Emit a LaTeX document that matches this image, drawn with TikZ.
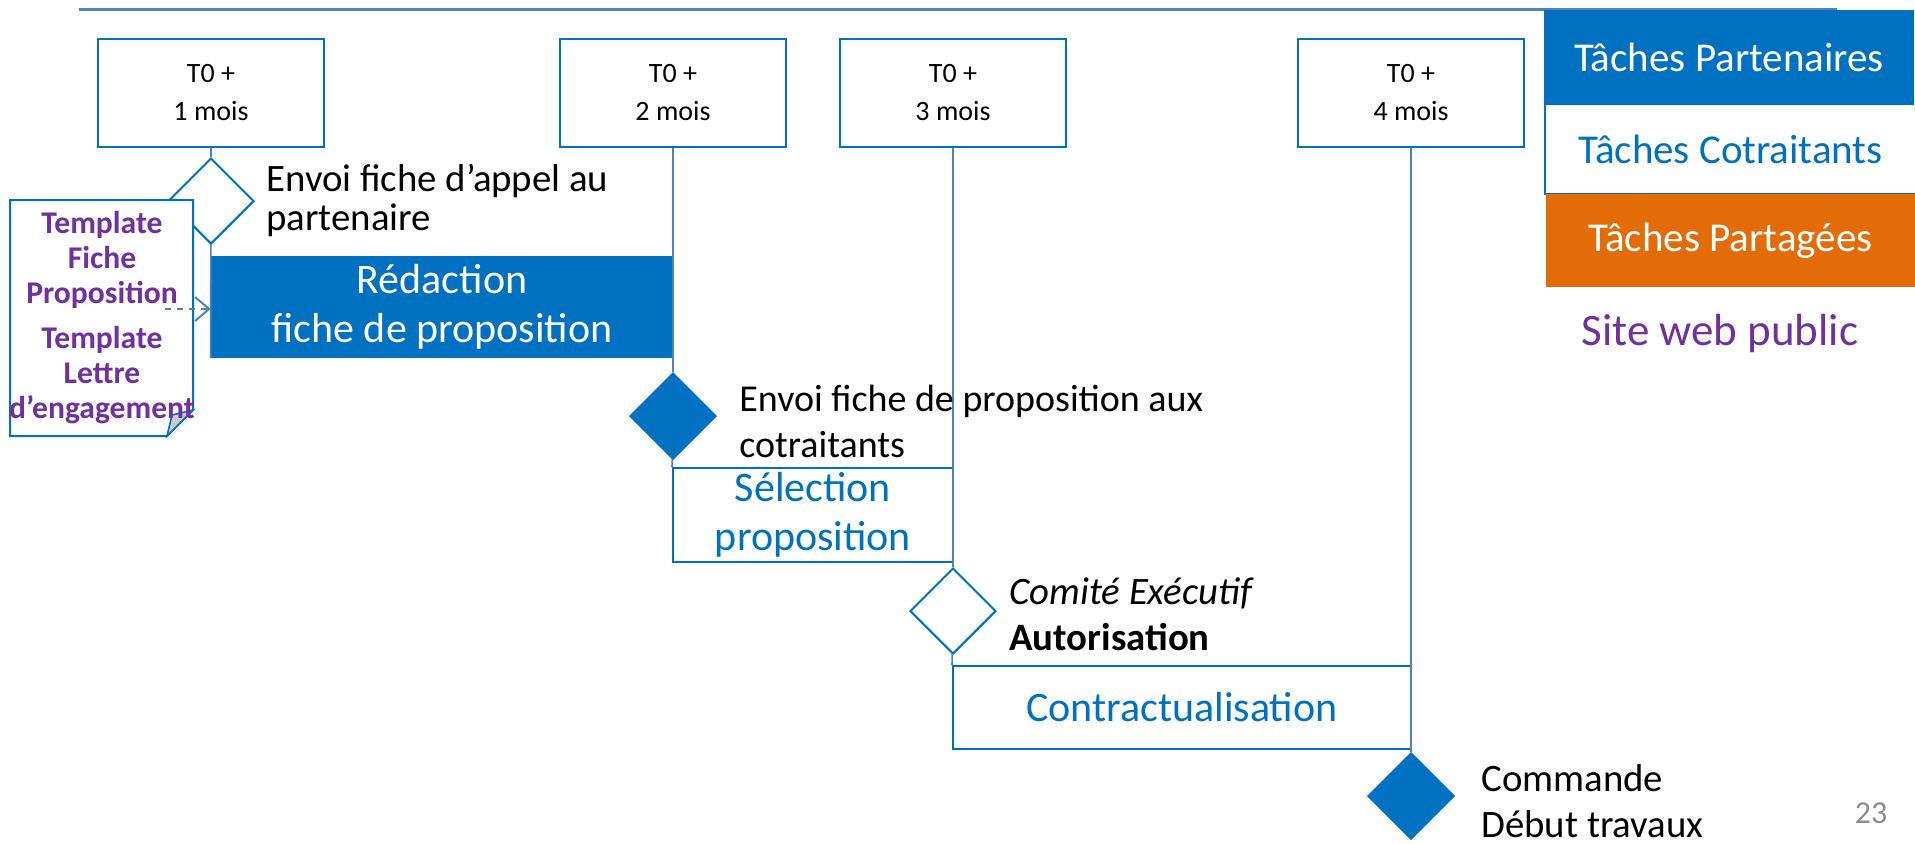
\documentclass[tikz,border=0pt]{standalone}
\usepackage{fontspec}
\setmainfont{Carlito}
\usetikzlibrary{shapes.geometric,positioning,calc,arrows.meta}
\definecolor{bleu}{HTML}{0070C0}
\definecolor{bleuclair}{HTML}{4F81BD}
\definecolor{orangeP}{HTML}{E36C09}
\definecolor{violetP}{HTML}{7030A0}
\definecolor{grisP}{HTML}{8C8C8C}
\tikzset{
  jalon/.style={draw=bleu, line width=1pt, minimum width=113pt, minimum height=54pt, inner sep=0pt, align=center, font=\fontsize{14}{19}\selectfont},
  losange/.style={diamond, aspect=1, draw=bleu, line width=1pt, minimum width=43pt, minimum height=43pt, inner sep=0pt},
  plein/.style={losange, fill=bleu},
  etiq/.style={anchor=west, align=left, inner sep=0pt, font=\fontsize{19}{23}\selectfont},
  tache/.style={inner sep=0pt, align=center, font=\fontsize{21}{24.5}\selectfont},
  legende/.style={inner sep=0pt, minimum width=185pt, font=\fontsize{20.5}{24}\selectfont},
  lien/.style={draw=bleuclair, line width=0.8pt},
}
\begin{document}
\begin{tikzpicture}[x=0.5pt, y=-0.5pt]
\useasboundingbox (0,0) rectangle (1915,843);
% ligne du haut
\coordinate (hg) at (79,9);
\coordinate (hd) at (1837,9);
\draw[bleuclair, line width=1.5pt] (hg) -- (hd);
% jalons
\node[jalon] (j1) at (211,93) {T0 +\\1 mois};
\node[jalon] (j2) at (673,93) {T0 +\\2 mois};
\node[jalon] (j3) at (953,93) {T0 +\\3 mois};
\node[jalon] (j4) at (1411,93) {T0 +\\4 mois};
% taches
\node[tache, fill=bleu, text=white, minimum width=231pt, minimum height=51pt] (redac) at (442,307) {Rédaction\\fiche de proposition};
\node[tache, draw=bleu, line width=1pt, text=bleu, minimum width=140pt, minimum height=47pt] (selec) at (813,515) {Sélection\\proposition};
\node[tache, draw=bleu, line width=1pt, text=bleu, minimum width=229pt, minimum height=41.5pt] (contr) at (1182,707.5) {Contractualisation};
% losanges
\node[losange] (d1) at (211,201) {};
\node[plein] (d2) at (673,416) {};
\node[losange] (d3) at (953,611) {};
\node[plein] (d4) at (1411,796) {};
% liens
\draw[lien] (j1) -- (d1);
\draw[lien] (d1) -- (redac.south west);
\draw[lien] (j2) -- (d2);
\draw[lien] (d2) -- (selec.north west);
\draw[lien] (j3) -- (d3);
\draw[lien] (d3) -- (contr.north west);
\draw[lien] (j4) -- (d4);
% etiquettes
\node[etiq, font=\fontsize{19.4}{19.5}\selectfont] (e1) at (266,200) {Envoi fiche d’appel au\\partenaire};
\node[etiq] (e2) at (739,421) {Envoi fiche de proposition aux\\cotraitants};
\node[etiq, font=\fontsize{19.4}{23}\selectfont] (e3) at (1009,614) {\itshape Comité Exécutif\\\bfseries Autorisation};
\node[etiq, font=\fontsize{19.4}{23}\selectfont] (e4) at (1481,801) {Commande\\Début travaux};
% document
\draw[bleu, line width=1pt, fill=white] (10,200) -- (193,200) -- (193,410) -- (167,436) -- (10,436) -- cycle;
\draw[bleu, line width=0.8pt, fill=gray!40] (193,410) -- (167,436) -- (172,415) -- cycle;
\node[inner sep=0pt, align=center, text=violetP, font=\bfseries\fontsize{15.8}{17.5}\selectfont] (doc) at (102,318)
  {Template\\Fiche\\Proposition\\[5pt]Template\\Lettre\\d’engagement};
\coordinate (fl) at (165,309);
\draw[bleuclair, line width=1pt, dashed, -{Straight Barb[length=7pt, width=12pt]}] (fl) -- (fl -| redac.west);
% legende
\node[legende, fill=bleu, text=white, minimum height=47.5pt] (lpart) at (1729,57.5) {Tâches Partenaires};
\node[legende, text=bleu, minimum height=44.5pt] (lcot) at (1730.5,149.5) {Tâches Cotraitants};
\draw[bleu, line width=1pt] (lcot.north west) -- (lcot.south west) -- (lcot.south east);
\node[legende, fill=orangeP, text=white, minimum height=46.5pt] (lpar) at (1730.5,240.5) {Tâches Partagées};
\node[inner sep=0pt, text=violetP, font=\fontsize{22.5}{26}\selectfont] (site) at (1720,333) {Site web public};
\node[inner sep=0pt, text=grisP, font=\fontsize{16}{19}\selectfont] (page) at (1871,813) {23};
\end{tikzpicture}
\end{document}
